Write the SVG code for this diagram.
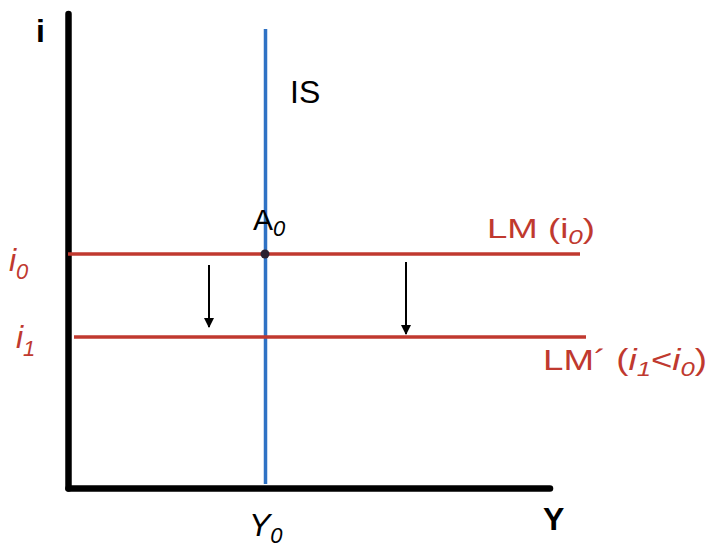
<svg xmlns="http://www.w3.org/2000/svg" width="709" height="547" viewBox="0 0 709 547">
<style>
.ax{stroke:#000;stroke-width:6.5;stroke-linecap:round;fill:none}
.lm{stroke:#c0392f;stroke-width:3.5;fill:none}
.is{stroke:#2f72c4;stroke-width:3.5;fill:none}
.ar{stroke:#000;stroke-width:2;fill:none}
.t{font-family:"Liberation Sans",Arial,sans-serif}
.red{fill:#c0392f}
.blk{fill:#000}
</style>
<defs>
<marker id="ah" viewBox="0 0 10 10" refX="9" refY="5" markerWidth="5" markerHeight="5" orient="auto" markerUnits="strokeWidth">
<path d="M0,0 L10,5 L0,10 z" fill="#000"/>
</marker>
</defs>
<g id="axes">
<line class="ax" x1="68.5" y1="14" x2="68.5" y2="488.5"/>
<line class="ax" x1="68.5" y1="488.5" x2="550" y2="488.5"/>
<text class="t blk" x="36" y="42" font-size="32" font-weight="bold">i</text>
<text class="t blk" x="543" y="530" font-size="32" font-weight="bold">Y</text>
</g>
<g id="IS">
<line class="is" x1="265.5" y1="29" x2="265.5" y2="484"/>
<text class="t blk" x="290" y="103" font-size="32">IS</text>
</g>
<g id="LM">
<line class="lm" x1="68" y1="254" x2="580" y2="254"/>
<text class="t red" x="487" y="238" font-size="28" textLength="108" lengthAdjust="spacingAndGlyphs">LM (i<tspan font-style="italic" font-size="20" dy="6">0</tspan><tspan dy="-6">)</tspan></text>
<text class="t red" x="9" y="271" font-size="32" font-style="italic">i<tspan font-size="22" dy="8">0</tspan></text>
</g>
<g id="LMp">
<line class="lm" x1="74" y1="337" x2="586" y2="337"/>
<text class="t red" x="543" y="370" font-size="30" textLength="164" lengthAdjust="spacingAndGlyphs">LM´ (<tspan font-style="italic">i</tspan><tspan font-style="italic" font-size="21" dy="6">1</tspan><tspan dy="-6">&lt;</tspan><tspan font-style="italic">i</tspan><tspan font-style="italic" font-size="21" dy="6">0</tspan><tspan dy="-6">)</tspan></text>
<text class="t red" x="16" y="348" font-size="32" font-style="italic">i<tspan font-size="22" dy="8">1</tspan></text>
</g>
<g id="A0">
<circle cx="265" cy="254" r="4.5" fill="#2a2030"/>
<text class="t blk" x="253" y="230" font-size="30">A<tspan font-style="italic" font-size="22" dy="6">0</tspan></text>
</g>
<g id="Y0">
<text class="t blk" x="249" y="536" font-size="32" font-style="italic">Y<tspan font-size="22" dy="7">0</tspan></text>
</g>
<g id="connectors">
<line class="ar" x1="209" y1="265" x2="209" y2="327" marker-end="url(#ah)"/>
<line class="ar" x1="406" y1="262" x2="406" y2="334" marker-end="url(#ah)"/>
</g>
</svg>
